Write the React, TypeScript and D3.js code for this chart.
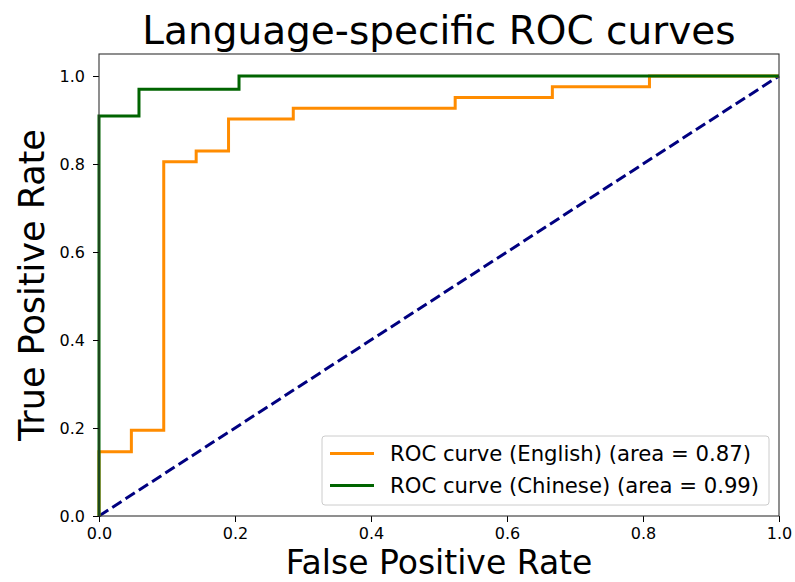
import React, { useEffect, useRef } from 'react';
import * as d3 from 'd3';

// ROC points (FPR, TPR)
const englishFpr = [0, 0, 0.0476, 0.0476, 0.0952, 0.0952, 0.1429, 0.1429, 0.1905, 0.1905, 0.2857, 0.2857, 0.5238, 0.5238, 0.6667, 0.6667, 0.8095, 0.8095, 1.0];
const englishTpr = [0, 0.1463, 0.1463, 0.1951, 0.1951, 0.8049, 0.8049, 0.8293, 0.8293, 0.9024, 0.9024, 0.9268, 0.9268, 0.9512, 0.9512, 0.9756, 0.9756, 1.0, 1.0];
const chineseFpr = [0, 0, 0.0588, 0.0588, 0.2059, 0.2059, 1.0];
const chineseTpr = [0, 0.9091, 0.9091, 0.9697, 0.9697, 1.0, 1.0];
const diagonal = [0, 1];
const tickValues = [0, 0.2, 0.4, 0.6, 0.8, 1.0];
const legendLabels = ['ROC curve (English) (area = 0.87)', 'ROC curve (Chinese) (area = 0.99)'];
const seriesColors = ['darkorange', 'darkgreen'];

export default function App() {
  const ref = useRef<SVGSVGElement>(null);

  useEffect(() => {
    const W = 795, H = 582;
    const margin = { top: 54, right: 16, bottom: 66, left: 99 };
    const width = W - margin.left - margin.right;
    const height = H - margin.top - margin.bottom;
    const font = 'DejaVu Sans, sans-serif';

    const svg = d3.select(ref.current);
    svg.selectAll('*').remove();

    const g = svg.append('g').attr('transform', `translate(${margin.left},${margin.top})`);

    const x = d3.scaleLinear().domain([0, 1]).range([0, width]);
    const y = d3.scaleLinear().domain([0, 1.05]).range([height, 0]);

    const line = d3.line<[number, number]>().x(d => x(d[0])).y(d => y(d[1]));

    // chance line
    g.append('path')
      .datum(diagonal.map(v => [v, v] as [number, number]))
      .attr('fill', 'none')
      .attr('stroke', 'navy')
      .attr('stroke-width', 3)
      .attr('stroke-dasharray', '11,4.8')
      .attr('d', line);

    const series = [
      englishFpr.map((v, i) => [v, englishTpr[i]] as [number, number]),
      chineseFpr.map((v, i) => [v, chineseTpr[i]] as [number, number]),
    ];
    series.forEach((s, i) => {
      g.append('path')
        .datum(s)
        .attr('fill', 'none')
        .attr('stroke', seriesColors[i])
        .attr('stroke-width', 3)
        .attr('d', line);
    });

    // axes
    const xAxis = g.append('g')
      .attr('transform', `translate(0,${height})`)
      .call(d3.axisBottom(x).tickValues(tickValues).tickFormat(d3.format('.1f')).tickSize(6).tickSizeOuter(0));
    const yAxis = g.append('g')
      .call(d3.axisLeft(y).tickValues(tickValues).tickFormat(d3.format('.1f')).tickSize(6).tickSizeOuter(0));
    [xAxis, yAxis].forEach(a => {
      a.select('.domain').remove();
      a.selectAll('line').attr('stroke', '#000').attr('stroke-width', 1);
      a.selectAll('text').attr('font-family', font).attr('font-size', 16).attr('fill', '#000');
    });
    xAxis.selectAll('text').attr('dy', '0.71em').attr('y', 12);
    yAxis.selectAll('text').attr('x', -14);

    // frame
    g.append('rect')
      .attr('width', width).attr('height', height)
      .attr('fill', 'none').attr('stroke', '#333').attr('stroke-width', 1.1);

    // legend
    const leg = g.append('g').attr('transform', `translate(${322 - margin.left},${436 - margin.top})`);
    leg.append('rect')
      .attr('width', 447).attr('height', 69).attr('rx', 3)
      .attr('fill', '#fff').attr('fill-opacity', 0.8)
      .attr('stroke', '#ccc').attr('stroke-width', 1);
    legendLabels.forEach((lab, i) => {
      const cy = 17.5 + i * 32;
      leg.append('line')
        .attr('x1', 8).attr('x2', 52).attr('y1', cy).attr('y2', cy)
        .attr('stroke', seriesColors[i]).attr('stroke-width', 3);
      leg.append('text')
        .attr('x', 68).attr('y', cy).attr('dy', '0.35em')
        .attr('font-family', font).attr('font-size', 21.2)
        .text(lab);
    });

    // titles
    svg.append('text')
      .attr('x', margin.left + width / 2).attr('y', 44)
      .attr('text-anchor', 'middle')
      .attr('font-family', font).attr('font-size', 39)
      .text('Language-specific ROC curves');
    svg.append('text')
      .attr('x', margin.left + width / 2).attr('y', 574)
      .attr('text-anchor', 'middle')
      .attr('font-family', font).attr('font-size', 33)
      .text('False Positive Rate');
    svg.append('text')
      .attr('transform', `translate(44,${margin.top + height / 2}) rotate(-90)`)
      .attr('text-anchor', 'middle')
      .attr('font-family', font).attr('font-size', 35)
      .text('True Positive Rate');
  }, []);

  return (
    <svg
      ref={ref}
      width={795}
      height={582}
      style={{ position: 'fixed', left: 0, top: 0, display: 'block', background: '#fff', overflow: 'visible' }}
    />
  );
}
